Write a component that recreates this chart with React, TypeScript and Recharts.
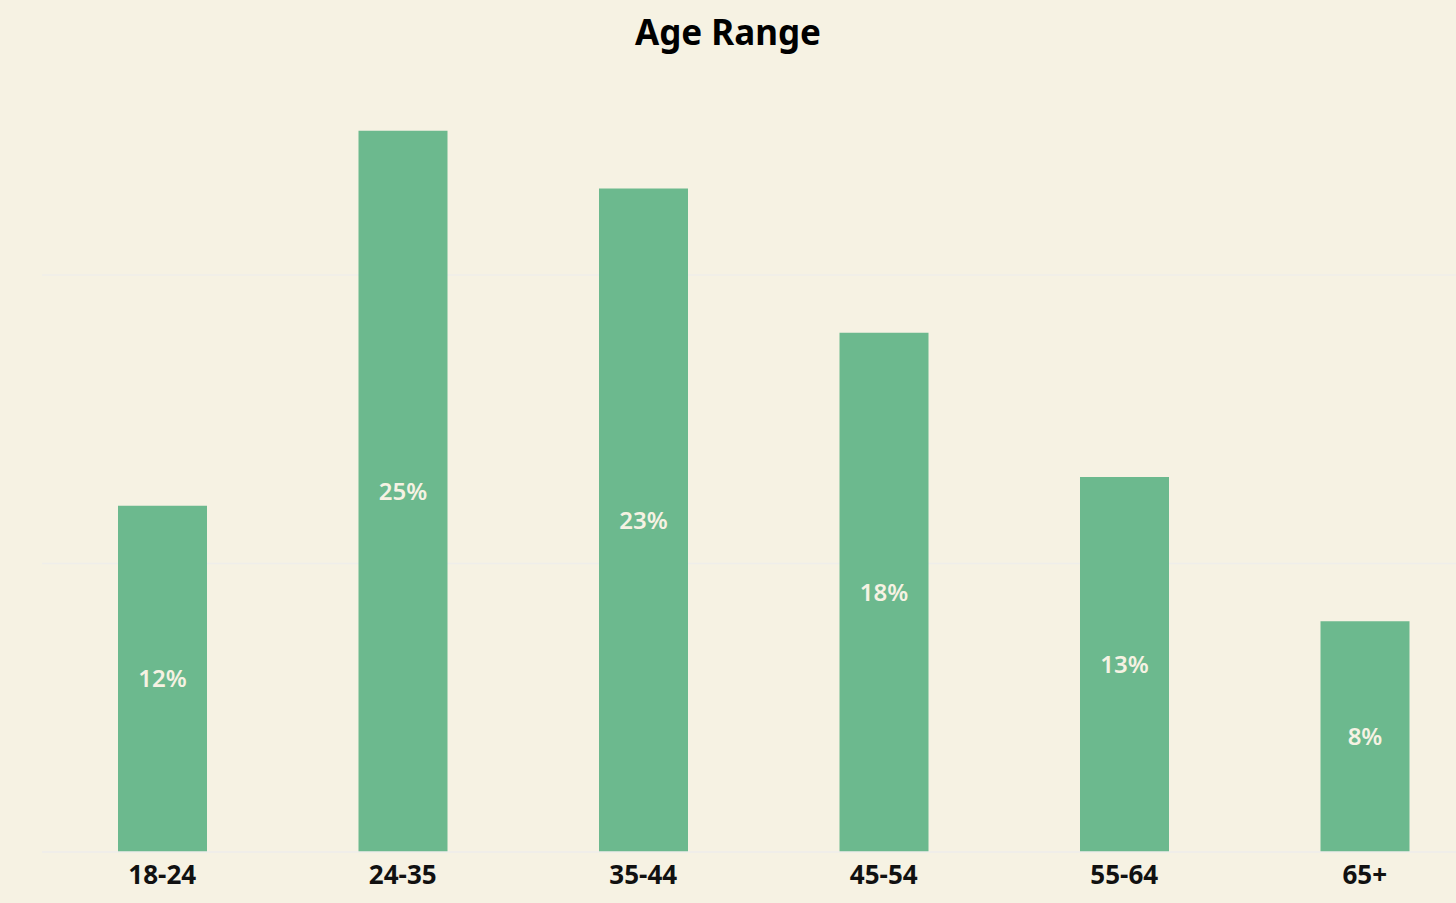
import React from "react";
import { BarChart, Bar, XAxis, YAxis, CartesianGrid, LabelList } from "recharts";

const categories = ["18-24", "24-35", "35-44", "45-54", "55-64", "65+"];
const shares = [12, 25, 23, 18, 13, 8];
const yTicks = [0, 10, 20];

const data = categories.map((c, i) => ({ range: c, share: shares[i] }));

const BG = "#F6F2E3";
const BAR = "#6CB98E";
const FONT = "'Noto Sans', 'Open Sans', sans-serif";

export default function App() {
  return (
    <div style={{ position: "relative", width: 1456, height: 903, overflow: "hidden", background: BG }}>
      <style>{`body{margin:0;background:${BG};}`}</style>
      <div style={{ position: "absolute", left: 0, top: 0 }}>
        <BarChart
          width={1485}
          height={904}
          data={data}
          margin={{ top: 73, right: 0, bottom: 0, left: 42 }}
          barCategoryGap={0}
        >
          <CartesianGrid vertical={false} horizontalValues={yTicks} stroke="#EFEEEA" strokeWidth={1.5} />
          <YAxis hide domain={[0, 27]} ticks={yTicks} type="number" allowDataOverflow />
          <XAxis
            dataKey="range"
            height={52}
            axisLine={{ stroke: "#EFEEEA", strokeWidth: 1.5 }}
            tickLine={false}
            tickMargin={8}
            interval={0}
            tick={{ fill: "#111111", fontSize: 26, fontWeight: 700, fontFamily: FONT }}
          />
          <Bar dataKey="share" fill={BAR} barSize={89} isAnimationActive={false}>
            <LabelList
              dataKey="share"
              position="center"
              formatter={(v: number) => `${v}%`}
              style={{ fill: "#F6F2E3", fontSize: 24, fontWeight: 600, fontFamily: FONT }}
            />
          </Bar>
        </BarChart>
      </div>
      <svg width={1456} height={80} style={{ position: "absolute", left: 0, top: 0 }}>
        <text x={728} y={45} textAnchor="middle" fontSize={35} fontWeight={700} fontFamily={FONT} fill="#000">
          Age Range
        </text>
      </svg>
    </div>
  );
}
